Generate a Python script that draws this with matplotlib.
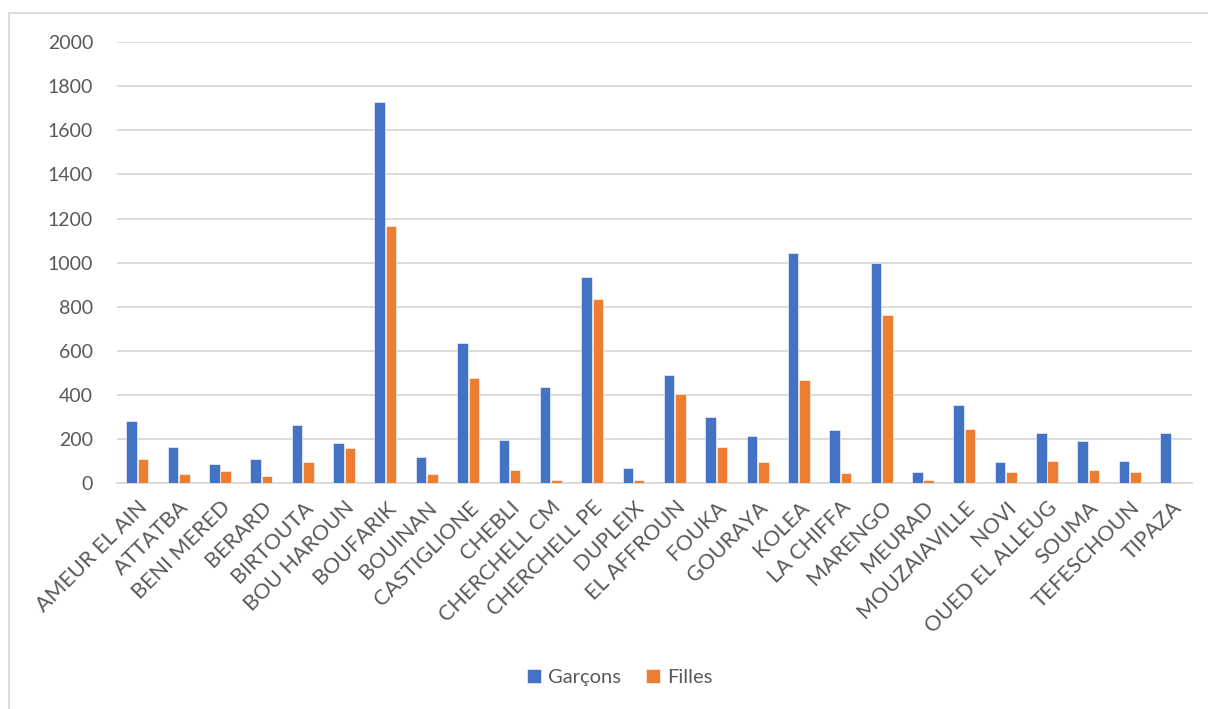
import matplotlib
matplotlib.use("Agg")
import matplotlib.pyplot as plt
import numpy as np
from matplotlib.patches import Rectangle

# values
communes = ["AMEUR EL AIN", "ATTATBA", "BENI MERED", "BERARD", "BIRTOUTA",
            "BOU HAROUN", "BOUFARIK", "BOUINAN", "CASTIGLIONE", "CHEBLI",
            "CHERCHELL CM", "CHERCHELL PE", "DUPLEIX", "EL AFFROUN", "FOUKA",
            "GOURAYA", "KOLEA", "LA CHIFFA", "MARENGO", "MEURAD",
            "MOUZAIAVILLE", "NOVI", "OUED EL ALLEUG", "SOUMA", "TEFESCHOUN",
            "TIPAZA"]
garcons = [283, 165, 90, 112, 267, 185, 1726, 121, 637, 198,
           439, 934, 70, 493, 299, 215, 1045, 242, 1000, 52,
           356, 97, 230, 194, 102, 227]
filles = [112, 44, 58, 36, 95, 161, 1166, 41, 479, 59,
          17, 836, 15, 405, 163, 97, 467, 47, 762, 15,
          248, 52, 102, 59, 54, 0]
yticks = [0, 200, 400, 600, 800, 1000, 1200, 1400, 1600, 1800, 2000]

blue = "#4472C4"
orange = "#ED7D31"
grid = "#D9D9D9"
txt = "#595959"

plt.rcParams['font.family'] = ['Lato', 'DejaVu Sans']

fig = plt.figure(figsize=(12.08, 7.09), dpi=100)
ax = fig.add_axes([0.0966, 0.3181, 0.8899, 0.6227])

x = np.arange(len(communes))
w = 0.255
ax.bar(x - w / 2 - 0.01, garcons, w, color=blue, edgecolor="white", linewidth=0.4, label="Garçons", zorder=3)
ax.bar(x + w / 2 + 0.01, filles, w, color=orange, edgecolor="white", linewidth=0.4, label="Filles", zorder=3)

ax.set_xlim(-0.5, len(communes) - 0.5)
ax.set_ylim(0, 2000)
ax.set_yticks(yticks)
ax.set_yticklabels([str(v) for v in yticks], fontsize=14, color=txt)
ax.set_xticks(x)
ax.set_xticklabels(communes, rotation=45, ha="right", rotation_mode="anchor",
                   fontsize=15.5, color=txt)
ax.tick_params(axis="both", length=0)
ax.tick_params(axis="y", pad=17)
ax.tick_params(axis="x", pad=10)
ax.yaxis.grid(True, color=grid, linewidth=1.3, zorder=0)
ax.set_axisbelow(True)
for s in ["top", "right", "left"]:
    ax.spines[s].set_visible(False)
ax.spines["bottom"].set_color(grid)
ax.spines["bottom"].set_linewidth(1.3)

leg = fig.legend(loc="center", bbox_to_anchor=(0.513, 0.045), ncol=2, frameon=False,
                 fontsize=14.5, handlelength=0.7, handleheight=0.7, columnspacing=1.2,
                 handletextpad=0.35)
for t in leg.get_texts():
    t.set_color(txt)

# outer chart border (only top and left visible in the crop)
fig.patches.append(Rectangle((9 / 1208, -0.2), 2, 1.2 - 13 / 709, transform=fig.transFigure,
                             fill=False, edgecolor=grid, linewidth=1.3))

fig.savefig("out.png", dpi=100)
